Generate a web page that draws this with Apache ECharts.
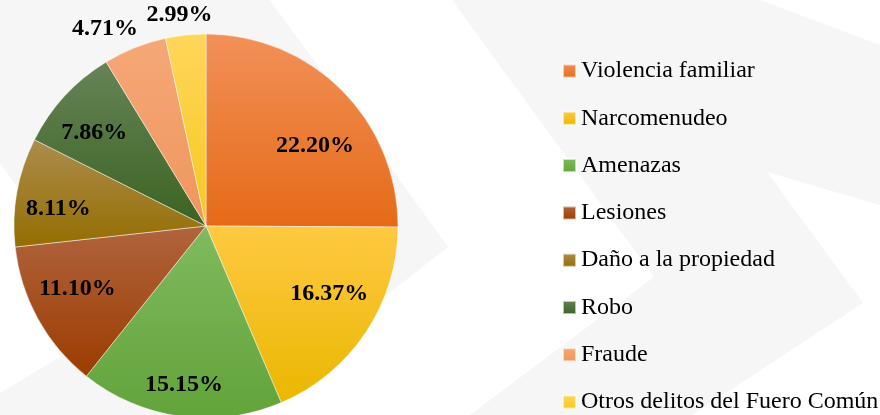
<html>
<head>
<meta charset="utf-8">
<script src="https://cdn.jsdelivr.net/npm/echarts@6/dist/echarts.min.js"></script>
<style>
  body { margin: 0; background: #fff; }
  #main { width: 880px; height: 415px; }
</style>
</head>
<body>
<div id="main"></div>
<script>
  // datos del grafico
  var delitos = ['Violencia familiar', 'Narcomenudeo', 'Amenazas', 'Lesiones',
    'Daño a la propiedad', 'Robo', 'Fraude', 'Otros delitos del Fuero Común'];
  var porcentajes = [22.20, 16.37, 15.15, 11.10, 8.11, 7.86, 4.71, 2.99];

  // colores (arriba claro, abajo oscuro)
  var colorArriba = ['#F29159', '#FFC942', '#80BA5E', '#B0643E', '#AC8C4E', '#668457', '#F5A877', '#FFD65A'];
  var colorAbajo  = ['#E56A17', '#EAB700', '#62A33A', '#9C3C00', '#946E00', '#3B6321', '#F0955C', '#F6C81E'];
  // pequeños ajustes de posicion de las etiquetas (estilo)
  var ajusteEtiqueta = [[4, 24], [0, -14], [-2, 12], [1, -9], [-2, 9], [-3, 7], [-22, 1], [-4, 1]];

  function degradado(i) {
    return new echarts.graphic.LinearGradient(0, 0, 0, 1, [
      { offset: 0, color: colorArriba[i] },
      { offset: 1, color: colorAbajo[i] }
    ]);
  }

  var fuente = '"Liberation Serif", "Times New Roman", serif';
  var etiqueta = {
    position: 'inside',
    fontFamily: fuente,
    fontSize: 24,
    fontWeight: 'bold',
    color: '#000',
    formatter: function (p) { return p.value.toFixed(2) + '%'; }
  };

  var datosPie = delitos.map(function (d, i) {
    return { name: d, value: porcentajes[i], itemStyle: { color: degradado(i) } };
  });
  // series invisibles solo para colocar las etiquetas
  var datosDentro = delitos.map(function (d, i) {
    return { name: d, value: porcentajes[i], label: { show: i < 6, offset: ajusteEtiqueta[i] } };
  });
  var datosFuera = delitos.map(function (d, i) {
    return { name: d, value: porcentajes[i], label: { show: i >= 6, offset: ajusteEtiqueta[i] } };
  });

  var gris = '#f6f6f6';
  var chart = echarts.init(document.getElementById('main'));
  chart.setOption({
    backgroundColor: '#fff',
    animation: false,
    graphic: [
      { type: 'polygon', silent: true, z: -10, style: { fill: gris },
        shape: { points: [[0, 0], [270, 0], [448, 247], [233, 415], [0, 415], [0, 393], [115, 324], [0, 163]] } },
      { type: 'polygon', silent: true, z: -10, style: { fill: gris },
        shape: { points: [[452, 0], [760, 0], [880, 45], [880, 205], [767, 172], [863, 303], [692, 415], [470, 415], [654, 277]] } }
    ],
    legend: {
      orient: 'vertical',
      left: 562,
      top: 59,
      height: 400,
      padding: 0,
      icon: 'rect',
      itemWidth: 13,
      itemHeight: 13,
      itemGap: 23.3,
      selectedMode: false,
      data: delitos,
      textStyle: { fontFamily: fuente, fontSize: 24, lineHeight: 24, color: '#000' }
    },
    series: [
      {
        type: 'pie',
        center: [206, 226],
        radius: [0, 192],
        startAngle: 90,
        clockwise: true,
        avoidLabelOverlap: false,
        label: { show: false },
        labelLine: { show: false },
        emphasis: { disabled: true },
        itemStyle: { borderColor: 'rgba(255,255,255,0.6)', borderWidth: 0.8 },
        data: datosPie
      },
      {
        type: 'pie',
        silent: true,
        center: [206, 226],
        radius: [0, 290],
        startAngle: 90,
        avoidLabelOverlap: false,
        labelLayout: { hideOverlap: false },
        itemStyle: { color: 'rgba(0,0,0,0)', borderWidth: 0 },
        emphasis: { disabled: true },
        label: etiqueta,
        labelLine: { show: false },
        data: datosDentro
      },
      {
        type: 'pie',
        silent: true,
        center: [206, 226],
        radius: [0, 420],
        startAngle: 90,
        avoidLabelOverlap: false,
        labelLayout: { hideOverlap: false },
        itemStyle: { color: 'rgba(0,0,0,0)', borderWidth: 0 },
        emphasis: { disabled: true },
        label: etiqueta,
        labelLine: { show: false },
        data: datosFuera
      }
    ]
  });
</script>
</body>
</html>
